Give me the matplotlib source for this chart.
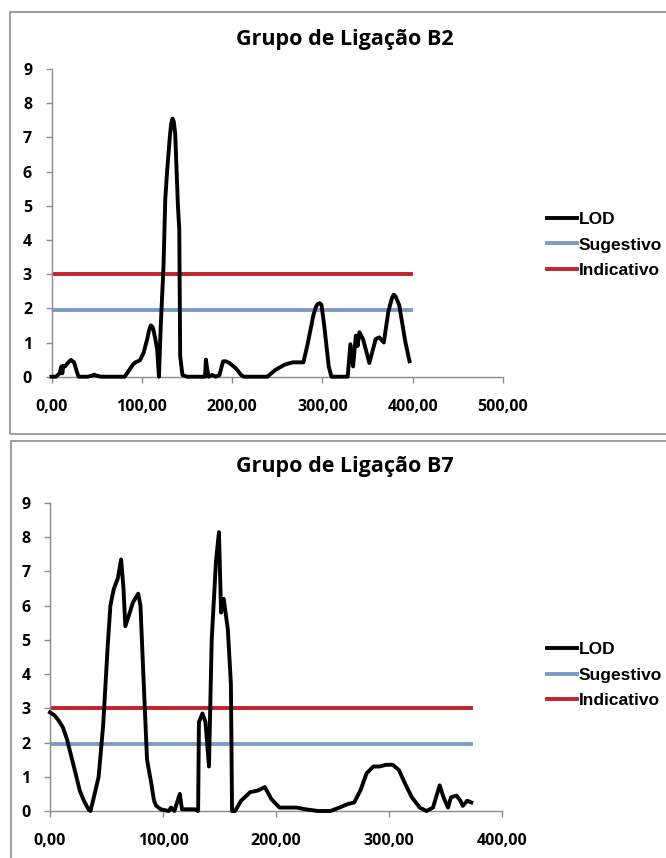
import numpy as np
import matplotlib.pyplot as plt
from matplotlib.patches import Rectangle

# LOD profile, linkage group B2 (position cM, LOD)
b2_pos = [0, 5, 9, 11, 12, 13, 15, 18, 21.5, 25, 28, 30, 40, 45, 47, 50, 55, 60, 70, 81,
          85, 90, 93, 98, 102, 106, 108, 110, 112, 113, 115, 117, 119, 121, 124, 126, 128,
          131, 132.5, 134, 135.5, 137, 140, 141.5, 142.5, 145, 150, 160, 170, 171, 172, 174,
          178, 182, 186, 190, 193, 197, 204, 210, 213, 225, 239, 248, 258, 267, 279, 284, 290,
          293, 294.5, 297, 299, 302, 307, 310, 320, 328, 331, 334, 337, 339, 341, 345, 352,
          359, 363, 368, 373, 377, 379, 381, 385, 392, 396.5]
b2_lod = [0, 0, 0.1, 0.3, 0.1, 0.32, 0.3, 0.4, 0.49, 0.42, 0.15, 0, 0, 0.03, 0.06, 0.03, 0,
          0, 0, 0, 0.15, 0.35, 0.42, 0.48, 0.7, 1.1, 1.35, 1.5, 1.45, 1.35, 1.1, 0.8, 0, 1.5,
          3.2, 5.2, 6.0, 7.0, 7.4, 7.55, 7.45, 7.1, 5.0, 4.3, 0.6, 0.05, 0, 0, 0, 0.5, 0.3, 0,
          0.05, 0, 0.05, 0.45, 0.45, 0.4, 0.25, 0.05, 0, 0, 0, 0.2, 0.35, 0.42, 0.42, 1.0, 1.8,
          2.05, 2.12, 2.15, 2.1, 1.5, 0.3, 0, 0, 0, 0.95, 0.3, 1.2, 0.9, 1.3, 1.1, 0.4, 1.1,
          1.15, 1.0, 1.9, 2.3, 2.4, 2.35, 2.1, 1.0, 0.45]

# LOD profile, linkage group B7
b7_pos = [0, 3.8, 7.5, 11.3, 15, 18.8, 22.6, 26.3, 30, 34, 35.8, 39.5, 43, 47, 51, 53.4,
          56.5, 60, 62.9, 65, 66.6, 69.6, 73.4, 78, 80, 82.8, 85.8, 89.6, 92, 94, 97.9, 105,
          107, 110, 114.8, 116.7, 128, 131, 131.7, 134.8, 137.5, 140.6, 143, 146.8, 149.4,
          151.3, 153.6, 157.3, 160, 161, 163.7, 169, 177, 184, 190, 195.7, 203, 218, 226,
          237, 248, 256, 263, 269, 274.5, 280, 286, 291.6, 297, 303, 308.5, 314, 320, 327,
          333, 338.7, 344.6, 348, 352, 354.6, 359.4, 363, 365, 369, 372.6]
b7_lod = [2.88, 2.8, 2.65, 2.45, 2.1, 1.6, 1.1, 0.6, 0.3, 0.05, 0, 0.5, 1.0, 2.5, 4.8, 6.0,
          6.5, 6.8, 7.35, 6.5, 5.4, 5.7, 6.1, 6.35, 6.0, 3.8, 1.5, 0.8, 0.3, 0.15, 0.05, 0,
          0.1, 0, 0.5, 0.05, 0.05, 0, 2.6, 2.85, 2.6, 1.3, 5.0, 7.3, 8.15, 5.8, 6.2, 5.3, 3.7,
          0, 0, 0.3, 0.55, 0.6, 0.7, 0.35, 0.1, 0.1, 0.05, 0, 0, 0.1, 0.2, 0.25, 0.6, 1.1, 1.3,
          1.3, 1.35, 1.35, 1.2, 0.8, 0.4, 0.1, 0, 0.1, 0.75, 0.4, 0.1, 0.4, 0.45, 0.3, 0.15,
          0.3, 0.25]

sugestivo = 1.96
indicativo = 3.0

titles = ['Grupo de Ligação B2', 'Grupo de Ligação B7']
xmax = [500, 400]
xend = [398, 372.6]

W, H = 666, 858
fig = plt.figure(figsize=(W / 100, H / 100), dpi=100)

# chart area borders (Excel style)
fig.patches.append(Rectangle((10 / W, 1 - 434 / H), 700 / W, 422 / H, transform=fig.transFigure,
                             fill=False, edgecolor='#8c8c8c', lw=1.2))
fig.patches.append(Rectangle((11 / W, -0.05), 700 / W, 1 - 441 / H + 0.05, transform=fig.transFigure,
                             fill=False, edgecolor='#8c8c8c', lw=1.2))

axes_pos = [[51.5 / W, 1 - 376.7 / H, 451.5 / W, 307.7 / H],
            [50 / W, 1 - 811 / H, 452.3 / W, 308 / H]]
title_y = [1 - 40 / H, 1 - 466 / H]
legend_y = [1 - 245 / H, 1 - 675 / H]
data = [(b2_pos, b2_lod), (b7_pos, b7_lod)]

tickfont = dict(family=['Open Sans', 'DejaVu Sans'], weight='bold', size=11.5)

for i in range(2):
    ax = fig.add_axes(axes_pos[i])
    pos, lod = data[i]
    l1, = ax.plot(pos, lod, color='black', lw=2.8, solid_joinstyle='round', label='LOD', zorder=3)
    l2, = ax.plot([0, xend[i]], [sugestivo, sugestivo], color='#7a9cc4', lw=2.8, label='Sugestivo')
    l3, = ax.plot([0, xend[i]], [indicativo, indicativo], color='#c0232e', lw=2.8, label='Indicativo')
    ax.set_xlim(0, xmax[i])
    ax.set_ylim(0, 9)
    ax.set_yticks(range(10))
    ax.set_xticks(np.arange(0, xmax[i] + 1, 100))
    ax.set_xticklabels(['%d,00' % v for v in np.arange(0, xmax[i] + 1, 100)], fontdict=tickfont)
    ax.set_yticklabels([str(v) for v in range(10)], fontdict=tickfont)
    for s in ['top', 'right']:
        ax.spines[s].set_visible(False)
    for s in ['left', 'bottom']:
        ax.spines[s].set_color('#8c8c8c')
        ax.spines[s].set_linewidth(1)
    ax.tick_params(axis='both', direction='out', length=4, width=1, color='#8c8c8c')
    ax.tick_params(axis='x', pad=12)
    ax.tick_params(axis='y', pad=10)
    l1.set_clip_on(False)

    fig.text(345 / W, title_y[i], titles[i], ha='center', va='center',
             family=['Open Sans', 'DejaVu Sans'], weight='bold', size=15.5)
    fig.legend(handles=[l1, l2, l3], loc='center left', bbox_to_anchor=(547 / W, legend_y[i]),
               frameon=False, borderpad=0, borderaxespad=0, handlelength=1.75,
               handletextpad=0.08, labelspacing=0.58,
               prop=dict(family=['Liberation Sans', 'DejaVu Sans'], weight='bold', size=12.5))

fig.savefig('out.png', dpi=100)
